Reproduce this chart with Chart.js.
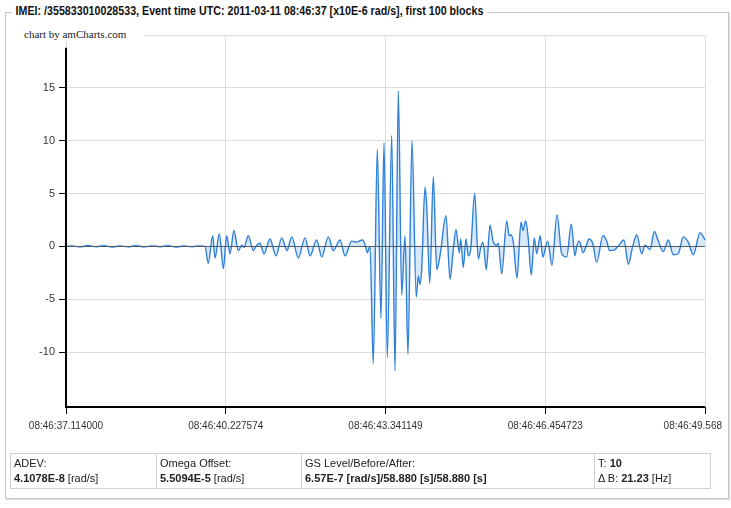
<!DOCTYPE html>
<html lang="en">
<head>
  <meta charset="UTF-8" />
  <title>IMEI 355833010028533 – rotation rate</title>
  <script src="https://cdn.jsdelivr.net/npm/chart.js"></script>
  <style>
    body {
      margin: 0;
      width: 731px;
      height: 508px;
      background: #fff;
      font-family: 'Liberation Sans', Arial, sans-serif;
      position: relative;
      overflow: hidden;
    }

    #frame {
      position: absolute;
      left: 5px;
      top: 12px;
      width: 722px;
      height: 485px;
      border: 1px solid #c4c4c4;
      box-shadow: 1px 1px 1px #e2e2e2;
    }

    #title {
      position: absolute;
      left: 12px;
      top: 4px;
      padding: 0 4px;
      background: #fff;
      font-weight: bold;
      font-size: 12px;
      color: #111;
      white-space: nowrap;
      transform: scaleX(0.89);
      transform-origin: left top;
      z-index: 2;
    }

    #credit {
      position: absolute;
      left: 22px;
      top: 28px;
      padding: 0 18px 0 2px;
      background: #fff;
      font-family: 'Liberation Serif', 'Times New Roman', serif;
      font-size: 11px;
      color: #222;
      z-index: 2;
    }

    #chart {
      position: absolute;
      left: 0;
      top: 0;
      z-index: 1;
    }

    #stats {
      position: absolute;
      left: 10px;
      top: 453px;
      width: 701px;
      border-collapse: collapse;
      font-size: 11px;
      color: #222;
      z-index: 2;
    }

    #stats td {
      border: 1px solid #cfcfcf;
      padding: 2px 4px 2px 3px;
      vertical-align: top;
      line-height: 15px;
    }
  </style>
</head>
<body>
  <div id="frame"></div>
  <div id="title">IMEI: /355833010028533, Event time UTC: 2011-03-11 08:46:37 [x10E-6 rad/s], first 100 blocks</div>
  <div id="credit">chart by amCharts.com</div>
  <canvas id="chart" width="731" height="508"></canvas>
  <table id="stats">
    <tr>
      <td style="width:138px">ADEV:<br><b>4.1078E-8</b> [rad/s]</td>
      <td style="width:137px">Omega Offset:<br><b>5.5094E-5</b> [rad/s]</td>
      <td style="width:285px">GS Level/Before/After:<br><b>6.57E-7 [rad/s]/58.880 [s]/58.880 [s]</b></td>
      <td>T: <b>10</b><br>&Delta; B: <b>21.23</b> [Hz]</td>
    </tr>
  </table>

  <script>
    // seconds after 08:46:37.114000
    const sampleTimes = [
      0, 0.117, 0.273, 0.429, 0.585, 0.741, 0.897, 1.052, 1.208, 1.364,
      1.520, 1.676, 1.832, 1.988, 2.144, 2.300, 2.456, 2.612, 2.709, 2.773,
      2.859, 2.904, 2.988, 3.066, 3.132, 3.196, 3.274, 3.358, 3.430, 3.469,
      3.553, 3.650, 3.703, 3.781, 3.859, 3.976, 4.093, 4.204, 4.307, 4.399,
      4.528, 4.658, 4.756, 4.886, 4.984, 5.112, 5.210, 5.340, 5.438, 5.568,
      5.652, 5.775, 5.827, 5.872, 5.925, 5.989, 6.067, 6.139, 6.198, 6.262,
      6.348, 6.412, 6.477, 6.543, 6.607, 6.665, 6.743, 6.827, 6.866, 6.899,
      6.932, 6.997, 7.030, 7.090, 7.159, 7.225, 7.289, 7.406, 7.484, 7.543,
      7.601, 7.665, 7.693, 7.743, 7.796, 7.841, 7.887, 7.965, 8.036, 8.088,
      8.127, 8.192, 8.264, 8.328, 8.394, 8.425, 8.492, 8.589, 8.640, 8.673,
      8.718, 8.790, 8.868, 8.907, 8.959, 9.004, 9.069, 9.127, 9.174, 9.244,
      9.291, 9.388, 9.472, 9.569, 9.661, 9.759, 9.848, 9.920, 9.959, 10.004,
      10.076, 10.135, 10.193, 10.265, 10.343, 10.466, 10.538, 10.593, 10.700, 10.758,
      10.875, 10.959, 11.045, 11.123, 11.220, 11.285, 11.382, 11.466, 11.544, 11.641,
      11.739, 11.836, 11.933, 12.031, 12.128, 12.226, 12.357, 12.421, 12.454
    ];

    // angular rate, x10E-6 rad/s
    const omega = [
      0, 0.05, -0.05, 0.08, -0.03, 0.06, -0.06, 0.04, -0.04, 0.07,
      -0.05, 0.05, -0.03, 0.06, -0.06, 0.04, -0.04, 0.05, 0, -1.6,
      1.0, -1.1, 1.2, -2.1, 1.0, -0.7, 1.5, -0.4, 0.1, -0.1,
      1.0, -0.4, 0.0, 0.3, -0.7, 0.7, -0.9, 0.8, -0.4, 0.9,
      -1.1, 0.8, -0.9, 0.6, -1.0, 0.9, -0.4, 0.6, -0.9, 0.5,
      0.4, 0.6, 0.2, -0.6, 0.0, -11.1, 9.2, -6.8, 9.8, -10.5,
      10.5, -11.8, 14.7, -4.6, 1.0, -10.2, 10.0, -4.8, -2.8, -3.6,
      -2.2, 5.6, 3.8, -3.5, 6.6, -2.2, -0.9, 2.9, -3.1, -0.6,
      1.6, -0.6, 0.7, -2.0, 0.7, -0.9, -0.3, 5.0, -1.2, 0,
      0.4, -2.2, 2.0, 0.4, 0.1, 0.3, -2.6, 2.4, 1.0, 1.1,
      0.4, -3.0, 2.3, 1.5, 2.4, 1.0, -2.7, 0.8, -0.7, 1.0,
      -1.0, 0.5, -1.8, 3.0, -0.7, -1.0, 2.1, -0.9, 0.1, 0.5,
      -0.6, 0, 0.7, 0.3, -1.5, 1.0, 0.5, -0.4, -0.3, 0.0,
      0.6, -1.7, 0.0, 1.1, -0.7, 0.1, -0.3, 1.4, 0.5, -0.5,
      0.6, -0.8, -0.7, 0.9, 0.4, -0.8, 1.3, 0.9, 0.6
    ];

    const tickSeconds = [0, 3.113574, 6.227149, 9.340723, 12.454];
    const tickLabels = ['08:46:37.114000', '08:46:40.227574', '08:46:43.341149', '08:46:46.454723', '08:46:49.568'];
    const valueTicks = [-10, -5, 0, 5, 10, 15, 20];
    const axisTop = 18.8;

    const FONT = "'Liberation Sans', Arial, sans-serif";
    const lastTick = tickLabels.length - 1;

    // black axis lines and the zero baseline, drawn over the filled series
    const axisLines = {
      id: 'axisLines',
      afterDatasetsDraw(chart) {
        const { ctx, chartArea, scales } = chart;
        const y0 = scales.y.getPixelForValue(0);
        ctx.save();
        ctx.strokeStyle = '#4f5c69';
        ctx.lineWidth = 1;
        ctx.beginPath();
        ctx.moveTo(chartArea.left, Math.round(y0) + 0.5);
        ctx.lineTo(chartArea.right, Math.round(y0) + 0.5);
        ctx.stroke();

        ctx.strokeStyle = '#000';
        ctx.lineWidth = 2;
        ctx.beginPath();
        ctx.moveTo(chartArea.left, scales.y.getPixelForValue(axisTop));
        ctx.lineTo(chartArea.left, chartArea.bottom);
        ctx.lineTo(chartArea.right, chartArea.bottom);
        ctx.stroke();

        // last time label is kept inside the frame
        const label = tickLabels[lastTick];
        ctx.font = '10px ' + FONT;
        ctx.fillStyle = '#333';
        ctx.textBaseline = 'middle';
        ctx.textAlign = 'center';
        const w = ctx.measureText(label).width;
        const cx = Math.min(scales.x.getPixelForValue(tickSeconds[lastTick]), 722 - w / 2);
        ctx.fillText(label, cx, chartArea.bottom + 19);
        ctx.restore();
      }
    };

    const points = sampleTimes.map((t, i) => ({ x: t, y: omega[i] }));

    new Chart(document.getElementById('chart'), {
      type: 'line',
      data: {
        datasets: [{
          data: points,
          borderColor: '#2f80d8',
          borderWidth: 1.4,
          backgroundColor: 'rgba(80,150,230,0.22)',
          fill: 'origin',
          pointRadius: 0,
          cubicInterpolationMode: 'monotone'
        }]
      },
      options: {
        responsive: false,
        animation: false,
        layout: { padding: { left: 0, top: 35, right: 26, bottom: 71 } },
        plugins: {
          legend: { display: false },
          tooltip: { enabled: false }
        },
        scales: {
          x: {
            type: 'linear',
            min: 0,
            max: 12.454,
            afterBuildTicks: s => { s.ticks = tickSeconds.map(v => ({ value: v })); },
            afterFit: s => { s.height = 30; s.paddingLeft = 0; s.paddingRight = 0; },
            ticks: {
              callback: (v, i) => (i === lastTick ? '' : tickLabels[i]),
              autoSkip: false,
              maxRotation: 0,
              padding: 6,
              color: '#333',
              font: { family: FONT, size: 10 }
            },
            grid: { color: '#dcdcdc', tickLength: 7, tickColor: '#000' },
            border: { display: false }
          },
          y: {
            min: -15.2,
            max: 20,
            afterBuildTicks: s => { s.ticks = valueTicks.map(v => ({ value: v })); },
            afterFit: s => { s.width = 66; },
            ticks: {
              callback: v => (v > axisTop ? '' : v),
              padding: 4,
              color: '#333',
              font: { family: FONT, size: 11 }
            },
            grid: {
              color: '#dcdcdc',
              tickLength: 7,
              tickColor: c => (c.tick && c.tick.value > axisTop ? 'rgba(0,0,0,0)' : '#000')
            },
            border: { display: false }
          }
        }
      },
      plugins: [axisLines]
    });
  </script>
</body>
</html>
